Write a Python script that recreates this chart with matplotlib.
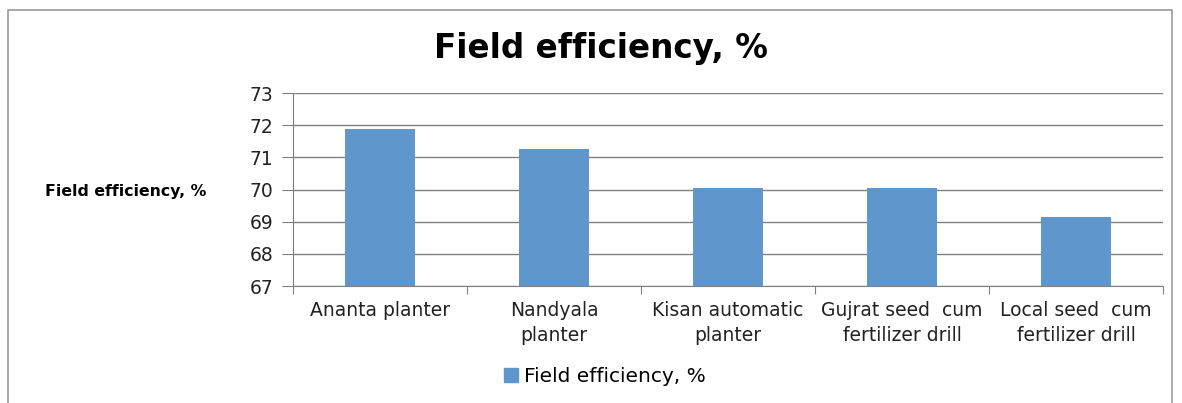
import numpy as np
import matplotlib.pyplot as plt
from matplotlib.patches import Rectangle, Patch

# Data
categories = ['Ananta planter', 'Nandyala\nplanter', 'Kisan automatic\nplanter',
              'Gujrat seed  cum\nfertilizer drill', 'Local seed  cum\nfertilizer drill']
efficiency = [71.89, 71.27, 70.06, 70.06, 69.16]
series_name = 'Field efficiency, %'
y_ticks = [67, 68, 69, 70, 71, 72, 73]

bar_color = '#5f97cc'
grid_color = '#808080'

fig = plt.figure(figsize=(11.82, 4.03), dpi=100)
ax = fig.add_axes([0.248, 0.290, 0.736, 0.479])

x = np.arange(len(categories))
ax.bar(x, np.array(efficiency) - y_ticks[0], bottom=y_ticks[0], width=0.4,
       color=bar_color, zorder=3, label=series_name)

ax.set_ylim(y_ticks[0], y_ticks[-1])
ax.set_xlim(-0.5, len(categories) - 0.5)
ax.set_yticks(y_ticks)
ax.tick_params(axis='y', labelsize=13.5, length=8, color=grid_color, pad=6, labelcolor='#222222')

# category boundaries as major ticks, labels on minor ticks
ax.set_xticks(np.arange(-0.5, len(categories), 1.0))
ax.set_xticklabels([])
ax.set_xticks(x, minor=True)
ax.set_xticklabels(categories, minor=True, fontsize=13.5, color='#222222', linespacing=1.35)
ax.tick_params(axis='x', which='major', length=6, color=grid_color)
ax.tick_params(axis='x', which='minor', length=0, pad=11)

ax.yaxis.grid(True, color=grid_color, linewidth=1.0, zorder=0)
ax.set_axisbelow(True)
for side in ['top', 'right']:
    ax.spines[side].set_visible(False)
ax.spines['left'].set_color(grid_color)
ax.spines['bottom'].set_color(grid_color)

fig.text(0.508, 0.88, 'Field efficiency, %', ha='center', va='center',
         fontsize=23.5, fontweight='bold')
fig.text(0.038, 0.525, 'Field efficiency, %', ha='left', va='center',
         fontsize=11.3, fontweight='bold')

fig.legend(handles=[Patch(color=bar_color, label=series_name)],
           loc='center', bbox_to_anchor=(0.512, 0.065), frameon=False,
           fontsize=14.5, handlelength=0.7, handleheight=0.7, handletextpad=0.3)

# outer chart frame
fig.patches.append(Rectangle((8 / 1182, -0.05), 1164 / 1182, 1 - 10 / 403 + 0.05,
                             transform=fig.transFigure, fill=False,
                             edgecolor='#9a9a9a', linewidth=1.2))

fig.savefig('out.png', dpi=100)
